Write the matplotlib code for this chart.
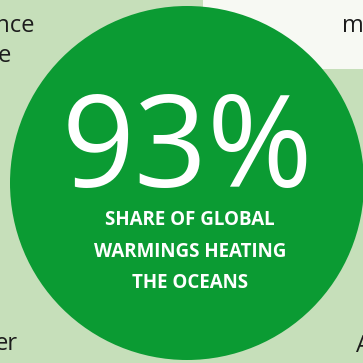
import matplotlib
matplotlib.use("Agg")
import matplotlib.pyplot as plt
from matplotlib.patches import Circle, Rectangle

# data
share_value = 93
label_lines = ["SHARE OF GLOBAL", "WARMINGS HEATING", "THE OCEANS"]
label_baselines = [225, 257, 288]
# words of the surrounding page, cut by the crop: (text, anchor x, baseline, align)
side_words = [("ence", 35, 32, "right"), ("e", 11, 62, "right"),
              ("er", 18, 350, "right"), ("A", 356, 352, "left"),
              ("me", 342, 32, "left")]

BG = "#c6dfba"
PANEL = "#f7f9f3"
GREEN = "#0b9b33"
INK = "#1c1c1c"

fig = plt.figure(figsize=(3.63, 3.63), dpi=100)
fig.patch.set_facecolor(BG)
ax = fig.add_axes([0, 0, 1, 1])
ax.set_xlim(0, 363)
ax.set_ylim(363, 0)
ax.set_axis_off()

# white panel top right
ax.add_patch(Rectangle((203, 0), 170, 69, facecolor=PANEL, edgecolor="none", zorder=1))

for word, x, y, ha in side_words:
    ax.text(x, y, word, fontsize=17, color=INK, family="Open Sans",
            ha=ha, va="baseline", zorder=2)

# big green circle
ax.add_patch(Circle((187, 183), 177, facecolor=GREEN, edgecolor="none", zorder=3))

ax.text(187, 187, f"{share_value}%", fontsize=92, color="white",
        family="Open Sans", ha="center", va="baseline", zorder=4)

for line, yb in zip(label_lines, label_baselines):
    ax.text(190, yb, line, fontsize=13.5, fontweight="bold", color="white",
            family="Open Sans", ha="center", va="baseline", zorder=4)

fig.savefig("out.png", dpi=100, facecolor=BG)
